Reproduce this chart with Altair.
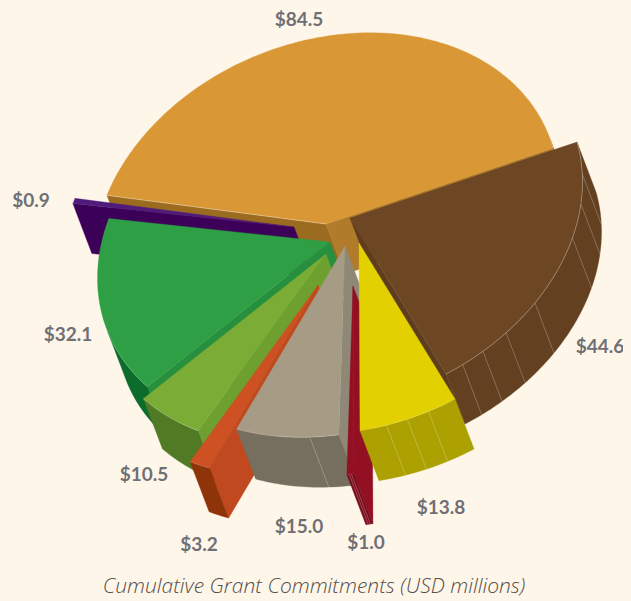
import math
import altair as alt

# --- values ---
names = ["gold", "brown", "yellow", "red", "gray", "orange", "lime", "green", "purple"]
values = [84.5, 44.6, 13.8, 1.0, 15.0, 3.2, 10.5, 32.1, 0.9]
labels = ["$84.5", "$44.6", "$13.8", "$1.0", "$15.0", "$3.2", "$10.5", "$32.1", "$0.9"]
label_x = [299, 600, 441, 366, 299, 199, 144, 68, 31]
label_y = [20, 347, 508, 543, 527, 545, 475, 335, 201]
title_text = "Cumulative Grant Commitments (USD millions)"

# --- drawing parameters ---
axis_u = (227.0, -76.0)
axis_v = (50.3, 175.5)
depth = (19.0, 50.0)
apex_x = [326, 350, 359, 353, 345, 318, 326, 330, 294]
apex_y = [224, 218, 243, 286, 246, 285, 254, 242, 227]
top_col = ["#d99835", "#6d4723", "#e2d000", "#930f22", "#a69c86", "#cd5122", "#7aac36", "#2f9f45", "#501c7c"]
arc_col = ["#9b6b20", "#634020", "#aca100", "#7c0c1c", "#766f5f", "#8f3409", "#517a24", "#0c6c2c", "#3d0059"]
start_col = ["#b07c2c", "#634020", "#aca100", "#930f22", "#8f8877", "#c0491f", "#6ea030", "#27903f", "#3d0059"]
end_col = ["#9b6b20", "#5e3c1e", "#aca100", "#930f22", "#8f8877", "#c0491f", "#6ea030", "#27903f", "#3d0059"]
order = ["gold", "brown", "purple", "green", "lime", "orange", "gray", "red", "yellow"]
facets = {
    "brown": [10.2, 19.2, 29.4, 49.8, 60.3, 67.6, 73.5],
    "yellow": [85.1, 90.5, 95.7],
    "gray": [111.2],
    "red": [102.9, 103.4],
}
edge_alpha = {"brown": .4, "yellow": .2, "gray": .3, "red": .15, "orange": .2,
              "lime": .35, "green": .25, "purple": .3, "gold": .3}
BG = "#fff6ea"

total = sum(values)
det = axis_u[0] * axis_v[1] - axis_u[1] * axis_v[0]
phi_d = math.degrees(math.atan2(
    (-axis_u[1] * depth[0] + axis_u[0] * depth[1]) / det,
    (axis_v[1] * depth[0] - axis_v[0] * depth[1]) / det))


def vec(phi):
    c, s = math.cos(math.radians(phi)), math.sin(math.radians(phi))
    return (axis_u[0] * c + axis_v[0] * s, axis_u[1] * c + axis_v[1] * s)


def faces(normal):
    return math.cos(math.radians(normal - phi_d)) > 0


features = []


def poly(points, col):
    ring = [list(p) for p in points] + [list(points[0])]
    features.append({"type": "Feature",
                     "geometry": {"type": "Polygon", "coordinates": [ring]},
                     "properties": {"f": col, "s": col, "w": 0.35, "o": 1}})


def line(points, alpha):
    features.append({"type": "Feature",
                     "geometry": {"type": "LineString", "coordinates": [list(p) for p in points]},
                     "properties": {"f": "none", "s": "#ffffff", "w": 0.7, "o": alpha}})


# cumulative angles, with the gold slice ending at 0 and angles growing clockwise
spans = {}
acc = -values[0] * 360 / total
for n, v in zip(names, values):
    spans[n] = (acc, acc + v * 360 / total)
    acc += v * 360 / total

for n in order:
    i = names.index(n)
    a0, a1 = spans[n]
    A = (apex_x[i], apex_y[i])
    shift = lambda p: (p[0] + depth[0], p[1] + depth[1])
    at = lambda phi: (A[0] + vec(phi)[0], A[1] + vec(phi)[1])
    steps = max(2, int((a1 - a0) / 1.0))
    phis = [a0 + (a1 - a0) * k / steps for k in range(steps + 1)]
    # radial side walls
    if faces(a0 - 90):
        poly([A, at(a0), shift(at(a0)), shift(A)], start_col[i] if n != "gold" else end_col[i])
    if faces(a1 + 90):
        poly([A, at(a1), shift(at(a1)), shift(A)], end_col[i] if n != "gold" else start_col[i])
    # outer wall
    vis = [p for p in phis if faces(p)]
    if len(vis) > 1:
        rim = [at(p) for p in vis]
        poly(rim + [shift(p) for p in reversed(rim)], arc_col[i])
        for f in facets.get(n, []):
            line([at(f), shift(at(f))], 0.35)
    # top face
    poly([A] + [at(p) for p in phis], top_col[i])
    line([at(p) for p in (vis if len(vis) > 1 else phis[:1] + phis[-1:])], edge_alpha[n])
    if n == "gold":
        line([at(a0), A], 0.5)

W, H = 615, 592
shapes = alt.Chart(alt.Data(values=features)).mark_geoshape().encode(
    fill=alt.Fill("properties.f:N", scale=None),
    stroke=alt.Stroke("properties.s:N", scale=None),
    strokeWidth=alt.StrokeWidth("properties.w:Q", scale=None),
    strokeOpacity=alt.StrokeOpacity("properties.o:Q", scale=None),
).project(type="identity", scale=1, translate=[-8, -8])

xs = alt.Scale(domain=[8, 8 + W], range=[0, W], nice=False, zero=False)
ys = alt.Scale(domain=[8, 8 + H], range=[0, H], nice=False, zero=False)

lab_data = alt.Data(values=[{"t": t, "x": x, "y": y} for t, x, y in zip(labels, label_x, label_y)])
label_layer = alt.Chart(lab_data).mark_text(
    font="Lato", fontSize=19, fontWeight="bold", color="#6f7075"
).encode(x=alt.X("x:Q", scale=xs, axis=None), y=alt.Y("y:Q", scale=ys, axis=None), text="t:N")

title_layer = alt.Chart(alt.Data(values=[{"t": title_text, "x": 314, "y": 587}])).mark_text(
    font="Open Sans", fontSize=21, fontStyle="italic", fontWeight=300, color="#544f4a"
).encode(x=alt.X("x:Q", scale=xs, axis=None), y=alt.Y("y:Q", scale=ys, axis=None), text="t:N")

chart = alt.layer(shapes, label_layer, title_layer).properties(
    width=W, height=H, padding=0, background=BG,
    autosize=alt.AutoSizeParams(type="none"),
).configure_view(stroke=None)

chart.save("out.html", embed_options={"renderer": "svg", "actions": False,
                                      "defaultStyle": "html,body{background:" + BG + ";overflow:hidden}"})
